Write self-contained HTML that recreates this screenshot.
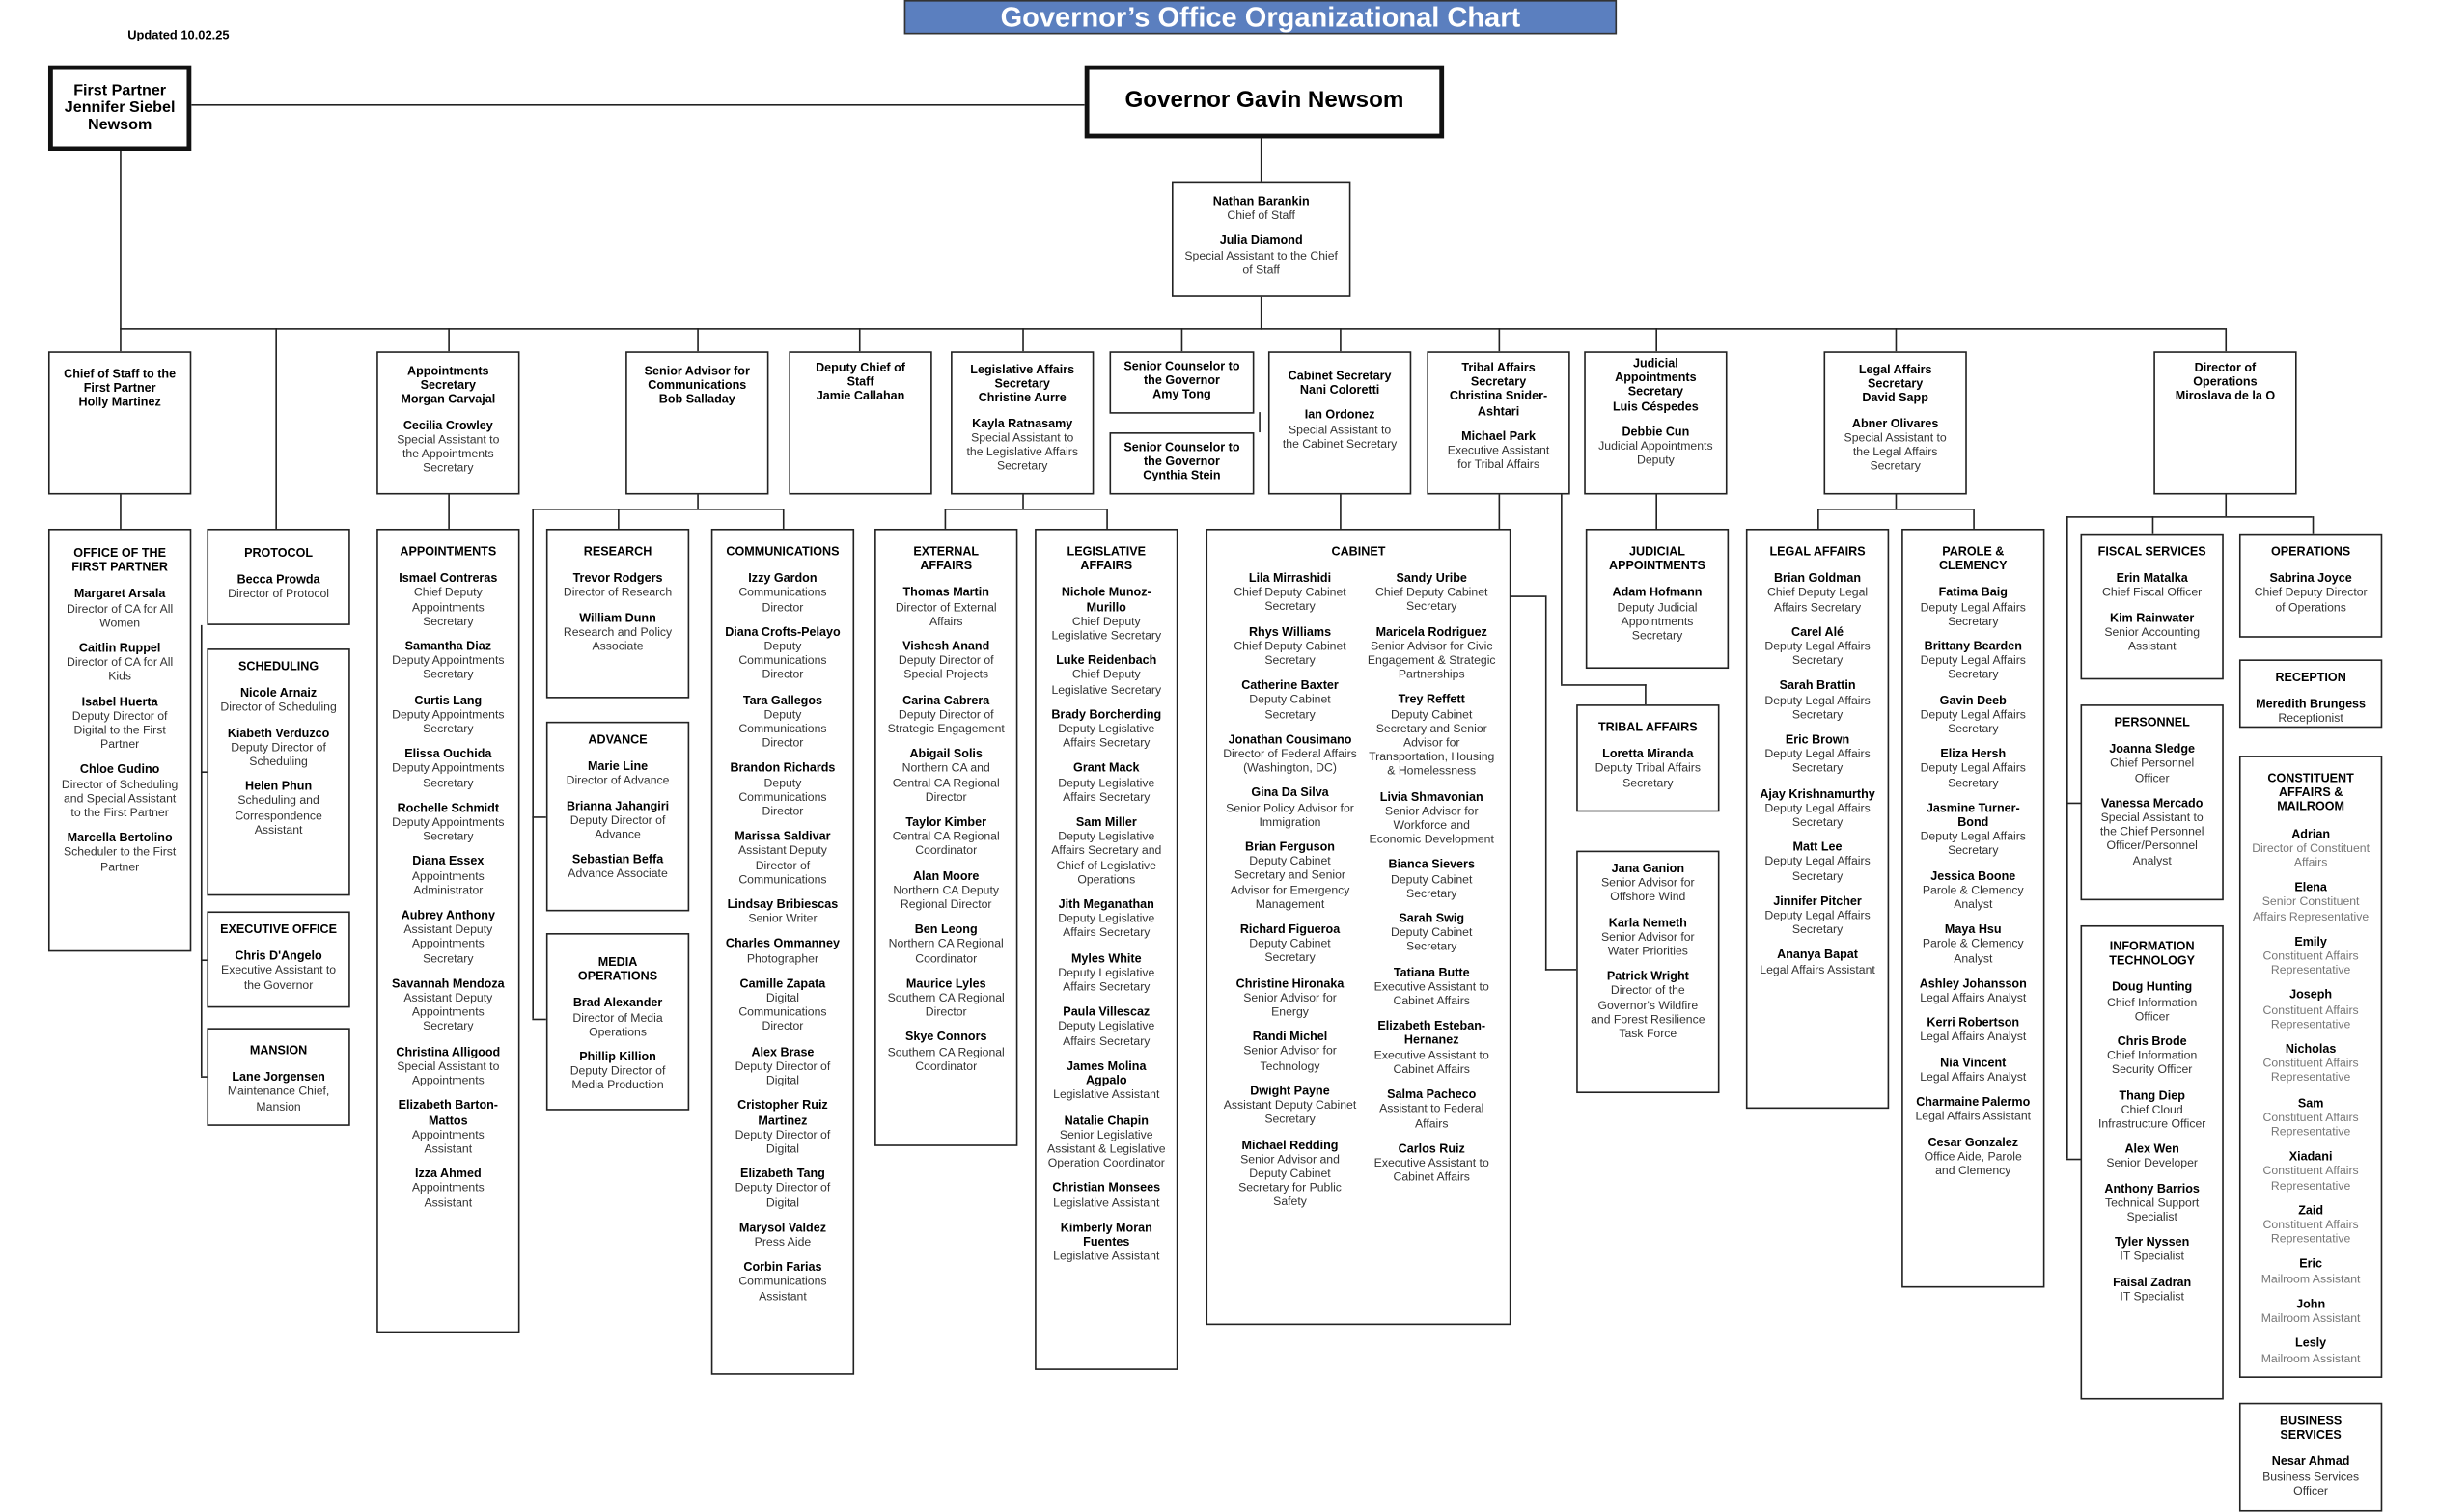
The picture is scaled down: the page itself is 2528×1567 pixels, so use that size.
<!DOCTYPE html>
<html><head><meta charset="utf-8">
<style>
html,body{margin:0;padding:0;background:#fff;}
body{width:2528px;height:1536px;overflow:hidden;position:relative;}
#w{position:absolute;left:0;top:0;width:1568px;height:953px;transform:scale(1.6122,1.6117);transform-origin:0 0;font-family:"Liberation Sans",sans-serif;color:#333;}
.b{position:absolute;border:1.3px solid #222;background:#fff;box-sizing:border-box;text-align:center;font-size:7.6px;line-height:9.2px;padding:4px 7px;}
.b p{margin:0 0 7px 0;}
.b b{color:#000;font-size:7.8px;}
.h{font-weight:bold;color:#000;font-size:7.8px;margin-bottom:8px !important;}
.l{position:absolute;background:#222;}
.t{position:absolute;font-weight:bold;color:#000;text-align:center;}
</style></head><body><div id="w">

<div class="t" style="left:82px;top:18px;font-size:8px;">Updated 10.02.25</div>
<div style="position:absolute;left:581px;top:0;width:458px;height:22px;background:#5b7fbf;border:1px solid #333;box-sizing:border-box;color:#fff;font-weight:bold;font-size:18px;line-height:20px;text-align:center;">Governor’s Office Organizational Chart</div>

<!-- lines -->
<div class="l" style="left:123px;top:67px;width:574px;height:1.3px"></div>
<div class="l" style="left:810px;top:88px;width:1.3px;height:29px"></div>
<div class="l" style="left:810px;top:190px;width:1.3px;height:22px"></div>
<div class="l" style="left:77px;top:211px;width:1353px;height:1.3px"></div>
<div class="l" style="left:77px;top:96px;width:1.3px;height:130px"></div>
<div class="l" style="left:177px;top:211px;width:1.3px;height:129px"></div>
<div class="l" style="left:288px;top:211px;width:1.3px;height:15px"></div>
<div class="l" style="left:448px;top:211px;width:1.3px;height:15px"></div>
<div class="l" style="left:552px;top:211px;width:1.3px;height:15px"></div>
<div class="l" style="left:657px;top:211px;width:1.3px;height:15px"></div>
<div class="l" style="left:759px;top:211px;width:1.3px;height:15px"></div>
<div class="l" style="left:809px;top:265px;width:1.3px;height:13px"></div>
<div class="l" style="left:861px;top:211px;width:1.3px;height:15px"></div>
<div class="l" style="left:963px;top:211px;width:1.3px;height:15px"></div>
<div class="l" style="left:1064px;top:211px;width:1.3px;height:15px"></div>
<div class="l" style="left:1218px;top:211px;width:1.3px;height:15px"></div>
<div class="l" style="left:1430px;top:211px;width:1.3px;height:15px"></div>

<div class="l" style="left:77px;top:318px;width:1.3px;height:22px"></div>
<div class="l" style="left:288px;top:318px;width:1.3px;height:22px"></div>
<div class="l" style="left:129px;top:402px;width:1.3px;height:290px"></div>
<div class="l" style="left:129px;top:496px;width:4px;height:1.3px"></div>
<div class="l" style="left:129px;top:617px;width:4px;height:1.3px"></div>
<div class="l" style="left:129px;top:692px;width:4px;height:1.3px"></div>

<div class="l" style="left:448px;top:318px;width:1.3px;height:9px"></div>
<div class="l" style="left:342px;top:327px;width:161px;height:1.3px"></div>
<div class="l" style="left:342px;top:327px;width:1.3px;height:328px"></div>
<div class="l" style="left:342px;top:525px;width:9px;height:1.3px"></div>
<div class="l" style="left:342px;top:655px;width:9px;height:1.3px"></div>
<div class="l" style="left:397px;top:327px;width:1.3px;height:13px"></div>
<div class="l" style="left:503px;top:327px;width:1.3px;height:13px"></div>

<div class="l" style="left:657px;top:318px;width:1.3px;height:9px"></div>
<div class="l" style="left:607px;top:327px;width:104px;height:1.3px"></div>
<div class="l" style="left:607px;top:327px;width:1.3px;height:13px"></div>
<div class="l" style="left:711px;top:327px;width:1.3px;height:13px"></div>

<div class="l" style="left:861px;top:318px;width:1.3px;height:22px"></div>

<div class="l" style="left:963px;top:318px;width:1.3px;height:65px"></div>
<div class="l" style="left:971px;top:383px;width:22px;height:1.3px"></div>
<div class="l" style="left:993px;top:383px;width:1.3px;height:241px"></div>
<div class="l" style="left:993px;top:623px;width:20px;height:1.3px"></div>
<div class="l" style="left:1003px;top:318px;width:1.3px;height:122px"></div>
<div class="l" style="left:1003px;top:440px;width:55px;height:1.3px"></div>
<div class="l" style="left:1057px;top:440px;width:1.3px;height:13px"></div>

<div class="l" style="left:1064px;top:318px;width:1.3px;height:22px"></div>

<div class="l" style="left:1218px;top:318px;width:1.3px;height:9px"></div>
<div class="l" style="left:1168px;top:327px;width:100px;height:1.3px"></div>
<div class="l" style="left:1168px;top:327px;width:1.3px;height:13px"></div>
<div class="l" style="left:1268px;top:327px;width:1.3px;height:13px"></div>

<div class="l" style="left:1430px;top:318px;width:1.3px;height:14px"></div>
<div class="l" style="left:1328px;top:332px;width:158px;height:1.3px"></div>
<div class="l" style="left:1328px;top:332px;width:1.3px;height:413px"></div>
<div class="l" style="left:1328px;top:516px;width:9px;height:1.3px"></div>
<div class="l" style="left:1328px;top:745px;width:9px;height:1.3px"></div>
<div class="l" style="left:1383px;top:332px;width:1.3px;height:11px"></div>
<div class="l" style="left:1486px;top:332px;width:1.3px;height:11px"></div>

<!-- top -->
<div class="b" style="left:31px;top:42px;width:92px;height:55px;border:3px solid #111;font-weight:bold;color:#000;font-size:10px;line-height:11px;padding:8px 3px 0;">First Partner<br>Jennifer Siebel<br>Newsom</div>
<div class="b" style="left:697px;top:42px;width:231px;height:47px;border:3px solid #111;font-weight:bold;color:#000;font-size:15px;line-height:40px;padding:0;">Governor Gavin Newsom</div>
<div class="b" style="left:753px;top:117px;width:115px;height:74px;padding-top:7px;"><p><b>Nathan Barankin</b><br>Chief of Staff</p><p><b>Julia Diamond</b><br>Special Assistant to the Chief of Staff</p></div>

<!-- level 2 -->
<div class="b" style="left:31px;top:226px;width:92px;height:92px;padding-top:9px;"><b>Chief of Staff to the First Partner<br>Holly Martinez</b></div>
<div class="b" style="left:242px;top:226px;width:92px;height:92px;padding-top:7px;"><p><b>Appointments Secretary<br>Morgan Carvajal</b></p><p><b>Cecilia Crowley</b><br>Special Assistant to the Appointments Secretary</p></div>
<div class="b" style="left:402px;top:226px;width:92px;height:92px;padding-top:7px;"><b>Senior Advisor for Communications<br>Bob Salladay</b></div>
<div class="b" style="left:507px;top:226px;width:92px;height:92px;padding-top:5px;"><b>Deputy Chief of Staff<br>Jamie Callahan</b></div>
<div class="b" style="left:611px;top:226px;width:92px;height:92px;padding-top:6px;"><p><b>Legislative Affairs Secretary<br>Christine Aurre</b></p><p><b>Kayla Ratnasamy</b><br>Special Assistant to the Legislative Affairs Secretary</p></div>
<div class="b" style="left:713px;top:226px;width:93px;height:40px;padding-top:4px;"><b>Senior Counselor to the Governor<br>Amy Tong</b></div>
<div class="b" style="left:713px;top:278px;width:93px;height:40px;padding-top:4px;"><b>Senior Counselor to the Governor<br>Cynthia Stein</b></div>
<div class="b" style="left:815px;top:226px;width:92px;height:92px;padding-top:10px;"><p><b>Cabinet Secretary<br>Nani Coloretti</b></p><p><b>Ian Ordonez</b><br>Special Assistant to the Cabinet Secretary</p></div>
<div class="b" style="left:917px;top:226px;width:92px;height:92px;padding-top:5px;"><p><b>Tribal Affairs Secretary<br>Christina Snider-Ashtari</b></p><p><b>Michael Park</b><br>Executive Assistant for Tribal Affairs</p></div>
<div class="b" style="left:1018px;top:226px;width:92px;height:92px;padding-top:2px;"><p><b>Judicial Appointments Secretary<br>Luis Céspedes</b></p><p><b>Debbie Cun</b><br>Judicial Appointments Deputy</p></div>
<div class="b" style="left:1172px;top:226px;width:92px;height:92px;padding-top:6px;"><p><b>Legal Affairs Secretary<br>David Sapp</b></p><p><b>Abner Olivares</b><br>Special Assistant to the Legal Affairs Secretary</p></div>
<div class="b" style="left:1384px;top:226px;width:92px;height:92px;padding-top:5px;"><b>Director of Operations<br>Miroslava de la O</b></div>

<!-- level 3 -->
<div class="b" style="left:31px;top:340px;width:92px;height:272px;padding-top:10px;"><p class="h">OFFICE OF THE FIRST PARTNER</p><p><b>Margaret Arsala</b><br>Director of CA for All Women</p><p><b>Caitlin Ruppel</b><br>Director of CA for All Kids</p><p><b>Isabel Huerta</b><br>Deputy Director of Digital to the First Partner</p><p><b>Chloe Gudino</b><br>Director of Scheduling and Special Assistant to the First Partner</p><p><b>Marcella Bertolino</b><br>Scheduler to the First Partner</p></div>

<div class="b" style="left:133px;top:340px;width:92px;height:62px;padding-top:10px;"><p class="h">PROTOCOL</p><p><b>Becca Prowda</b><br>Director of Protocol</p></div>
<div class="b" style="left:133px;top:417px;width:92px;height:159px;padding-top:6px;"><p class="h">SCHEDULING</p><p><b>Nicole Arnaiz</b><br>Director of Scheduling</p><p><b>Kiabeth Verduzco</b><br>Deputy Director of Scheduling</p><p><b>Helen Phun</b><br>Scheduling and Correspondence Assistant</p></div>
<div class="b" style="left:133px;top:586px;width:92px;height:62px;padding-top:6px;"><p class="h">EXECUTIVE OFFICE</p><p><b>Chris D'Angelo</b><br>Executive Assistant to the Governor</p></div>
<div class="b" style="left:133px;top:661px;width:92px;height:63px;padding-top:9px;"><p class="h">MANSION</p><p><b>Lane Jorgensen</b><br>Maintenance Chief, Mansion</p></div>

<div class="b" style="left:242px;top:340px;width:92px;height:517px;padding-top:9px;"><p class="h">APPOINTMENTS</p><p><b>Ismael Contreras</b><br>Chief Deputy Appointments Secretary</p><p><b>Samantha Diaz</b><br>Deputy Appointments Secretary</p><p><b>Curtis Lang</b><br>Deputy Appointments Secretary</p><p><b>Elissa Ouchida</b><br>Deputy Appointments Secretary</p><p><b>Rochelle Schmidt</b><br>Deputy Appointments Secretary</p><p><b>Diana Essex</b><br>Appointments Administrator</p><p><b>Aubrey Anthony</b><br>Assistant Deputy Appointments Secretary</p><p><b>Savannah Mendoza</b><br>Assistant Deputy Appointments Secretary</p><p><b>Christina Alligood</b><br>Special Assistant to Appointments</p><p><b>Elizabeth Barton-Mattos</b><br>Appointments Assistant</p><p><b>Izza Ahmed</b><br>Appointments Assistant</p></div>

<div class="b" style="left:351px;top:340px;width:92px;height:109px;padding-top:9px;"><p class="h">RESEARCH</p><p><b>Trevor Rodgers</b><br>Director of Research</p><p><b>William Dunn</b><br>Research and Policy Associate</p></div>
<div class="b" style="left:351px;top:464px;width:92px;height:122px;padding-top:6px;"><p class="h">ADVANCE</p><p><b>Marie Line</b><br>Director of Advance</p><p><b>Brianna Jahangiri</b><br>Deputy Director of Advance</p><p><b>Sebastian Beffa</b><br>Advance Associate</p></div>
<div class="b" style="left:351px;top:600px;width:92px;height:114px;padding-top:13px;"><p class="h">MEDIA OPERATIONS</p><p><b>Brad Alexander</b><br>Director of Media Operations</p><p><b>Phillip Killion</b><br>Deputy Director of Media Production</p></div>

<div class="b" style="left:457px;top:340px;width:92px;height:544px;padding-top:9px;"><p class="h">COMMUNICATIONS</p><p><b>Izzy Gardon</b><br>Communications Director</p><p><b>Diana Crofts-Pelayo</b><br>Deputy Communications Director</p><p><b>Tara Gallegos</b><br>Deputy Communications Director</p><p><b>Brandon Richards</b><br>Deputy Communications Director</p><p><b>Marissa Saldivar</b><br>Assistant Deputy Director of Communications</p><p><b>Lindsay Bribiescas</b><br>Senior Writer</p><p><b>Charles Ommanney</b><br>Photographer</p><p><b>Camille Zapata</b><br>Digital Communications Director</p><p><b>Alex Brase</b><br>Deputy Director of Digital</p><p><b>Cristopher Ruiz Martinez</b><br>Deputy Director of Digital</p><p><b>Elizabeth Tang</b><br>Deputy Director of Digital</p><p><b>Marysol Valdez</b><br>Press Aide</p><p><b>Corbin Farias</b><br>Communications Assistant</p></div>

<div class="b" style="left:562px;top:340px;width:92px;height:397px;padding-top:9px;"><p class="h">EXTERNAL AFFAIRS</p><p><b>Thomas Martin</b><br>Director of External Affairs</p><p><b>Vishesh Anand</b><br>Deputy Director of Special Projects</p><p><b>Carina Cabrera</b><br>Deputy Director of Strategic Engagement</p><p><b>Abigail Solis</b><br>Northern CA and Central CA Regional Director</p><p><b>Taylor Kimber</b><br>Central CA Regional Coordinator</p><p><b>Alan Moore</b><br>Northern CA Deputy Regional Director</p><p><b>Ben Leong</b><br>Northern CA Regional Coordinator</p><p><b>Maurice Lyles</b><br>Southern CA Regional Director</p><p><b>Skye Connors</b><br>Southern CA Regional Coordinator</p></div>

<div class="b" style="left:665px;top:340px;width:92px;height:541px;padding-top:9px;"><p class="h">LEGISLATIVE AFFAIRS</p><p><b>Nichole Munoz-Murillo</b><br>Chief Deputy Legislative Secretary</p><p><b>Luke Reidenbach</b><br>Chief Deputy Legislative Secretary</p><p><b>Brady Borcherding</b><br>Deputy Legislative Affairs Secretary</p><p><b>Grant Mack</b><br>Deputy Legislative Affairs Secretary</p><p><b>Sam Miller</b><br>Deputy Legislative Affairs Secretary and Chief of Legislative Operations</p><p><b>Jith Meganathan</b><br>Deputy Legislative Affairs Secretary</p><p><b>Myles White</b><br>Deputy Legislative Affairs Secretary</p><p><b>Paula Villescaz</b><br>Deputy Legislative Affairs Secretary</p><p><b>James Molina Agpalo</b><br>Legislative Assistant</p><p><b>Natalie Chapin</b><br>Senior Legislative Assistant &amp; Legislative Operation Coordinator</p><p><b>Christian Monsees</b><br>Legislative Assistant</p><p><b>Kimberly Moran Fuentes</b><br>Legislative Assistant</p></div>

<div class="b" style="left:775px;top:340px;width:196px;height:512px;padding-top:9px;"><p class="h">CABINET</p>
<div style="position:absolute;left:10px;top:26px;width:86px;"><p><b>Lila Mirrashidi</b><br>Chief Deputy Cabinet Secretary</p><p><b>Rhys Williams</b><br>Chief Deputy Cabinet Secretary</p><p><b>Catherine Baxter</b><br>Deputy Cabinet Secretary</p><p><b>Jonathan Cousimano</b><br>Director of Federal Affairs (Washington, DC)</p><p><b>Gina Da Silva</b><br>Senior Policy Advisor for Immigration</p><p><b>Brian Ferguson</b><br>Deputy Cabinet Secretary and Senior Advisor for Emergency Management</p><p><b>Richard Figueroa</b><br>Deputy Cabinet Secretary</p><p><b>Christine Hironaka</b><br>Senior Advisor for Energy</p><p><b>Randi Michel</b><br>Senior Advisor for Technology</p><p><b>Dwight Payne</b><br>Assistant Deputy Cabinet Secretary</p><p><b>Michael Redding</b><br>Senior Advisor and Deputy Cabinet Secretary for Public Safety</p></div>
<div style="position:absolute;left:102px;top:26px;width:84px;"><p><b>Sandy Uribe</b><br>Chief Deputy Cabinet Secretary</p><p><b>Maricela Rodriguez</b><br>Senior Advisor for Civic Engagement &amp; Strategic Partnerships</p><p><b>Trey Reffett</b><br>Deputy Cabinet Secretary and Senior Advisor for Transportation, Housing &amp; Homelessness</p><p><b>Livia Shmavonian</b><br>Senior Advisor for Workforce and Economic Development</p><p><b>Bianca Sievers</b><br>Deputy Cabinet Secretary</p><p><b>Sarah Swig</b><br>Deputy Cabinet Secretary</p><p><b>Tatiana Butte</b><br>Executive Assistant to Cabinet Affairs</p><p><b>Elizabeth Esteban-Hernanez</b><br>Executive Assistant to Cabinet Affairs</p><p><b>Salma Pacheco</b><br>Assistant to Federal Affairs</p><p><b>Carlos Ruiz</b><br>Executive Assistant to Cabinet Affairs</p></div></div>

<div class="b" style="left:1019px;top:340px;width:92px;height:90px;padding-top:9px;"><p class="h">JUDICIAL APPOINTMENTS</p><p><b>Adam Hofmann</b><br>Deputy Judicial Appointments Secretary</p></div>
<div class="b" style="left:1013px;top:453px;width:92px;height:69px;padding-top:9px;"><p class="h">TRIBAL AFFAIRS</p><p><b>Loretta Miranda</b><br>Deputy Tribal Affairs Secretary</p></div>
<div class="b" style="left:1013px;top:547px;width:92px;height:156px;padding-top:6px;"><p><b>Jana Ganion</b><br>Senior Advisor for Offshore Wind</p><p><b>Karla Nemeth</b><br>Senior Advisor for Water Priorities</p><p><b>Patrick Wright</b><br>Director of the Governor's Wildfire and Forest Resilience Task Force</p></div>

<div class="b" style="left:1122px;top:340px;width:92px;height:373px;padding-top:9px;"><p class="h">LEGAL AFFAIRS</p><p><b>Brian Goldman</b><br>Chief Deputy Legal Affairs Secretary</p><p><b>Carel Alé</b><br>Deputy Legal Affairs Secretary</p><p><b>Sarah Brattin</b><br>Deputy Legal Affairs Secretary</p><p><b>Eric Brown</b><br>Deputy Legal Affairs Secretary</p><p><b>Ajay Krishnamurthy</b><br>Deputy Legal Affairs Secretary</p><p><b>Matt Lee</b><br>Deputy Legal Affairs Secretary</p><p><b>Jinnifer Pitcher</b><br>Deputy Legal Affairs Secretary</p><p><b>Ananya Bapat</b><br>Legal Affairs Assistant</p></div>

<div class="b" style="left:1222px;top:340px;width:92px;height:488px;padding-top:9px;"><p class="h">PAROLE &amp; CLEMENCY</p><p><b>Fatima Baig</b><br>Deputy Legal Affairs Secretary</p><p><b>Brittany Bearden</b><br>Deputy Legal Affairs Secretary</p><p><b>Gavin Deeb</b><br>Deputy Legal Affairs Secretary</p><p><b>Eliza Hersh</b><br>Deputy Legal Affairs Secretary</p><p><b>Jasmine Turner-Bond</b><br>Deputy Legal Affairs Secretary</p><p><b>Jessica Boone</b><br>Parole &amp; Clemency Analyst</p><p><b>Maya Hsu</b><br>Parole &amp; Clemency Analyst</p><p><b>Ashley Johansson</b><br>Legal Affairs Analyst</p><p><b>Kerri Robertson</b><br>Legal Affairs Analyst</p><p><b>Nia Vincent</b><br>Legal Affairs Analyst</p><p><b>Charmaine Palermo</b><br>Legal Affairs Assistant</p><p><b>Cesar Gonzalez</b><br>Office Aide, Parole and Clemency</p></div>

<div class="b" style="left:1337px;top:343px;width:92px;height:94px;padding-top:6px;"><p class="h">FISCAL SERVICES</p><p><b>Erin Matalka</b><br>Chief Fiscal Officer</p><p><b>Kim Rainwater</b><br>Senior Accounting Assistant</p></div>
<div class="b" style="left:1337px;top:453px;width:92px;height:126px;padding-top:6px;"><p class="h">PERSONNEL</p><p><b>Joanna Sledge</b><br>Chief Personnel Officer</p><p><b>Vanessa Mercado</b><br>Special Assistant to the Chief Personnel Officer/Personnel Analyst</p></div>
<div class="b" style="left:1337px;top:595px;width:92px;height:305px;padding-top:8px;"><p class="h">INFORMATION TECHNOLOGY</p><p><b>Doug Hunting</b><br>Chief Information Officer</p><p><b>Chris Brode</b><br>Chief Information Security Officer</p><p><b>Thang Diep</b><br>Chief Cloud Infrastructure Officer</p><p><b>Alex Wen</b><br>Senior Developer</p><p><b>Anthony Barrios</b><br>Technical Support Specialist</p><p><b>Tyler Nyssen</b><br>IT Specialist</p><p><b>Faisal Zadran</b><br>IT Specialist</p></div>

<div class="b" style="left:1439px;top:343px;width:92px;height:67px;padding-top:6px;"><p class="h">OPERATIONS</p><p><b>Sabrina Joyce</b><br>Chief Deputy Director of Operations</p></div>
<div class="b" style="left:1439px;top:424px;width:92px;height:44px;padding-top:6px;"><p class="h">RECEPTION</p><p><b>Meredith Brungess</b><br>Receptionist</p></div>
<div class="b" style="left:1439px;top:486px;width:92px;height:400px;padding-top:9px;color:#777;"><p class="h">CONSTITUENT AFFAIRS &amp; MAILROOM</p><p><b>Adrian</b><br>Director of Constituent Affairs</p><p><b>Elena</b><br>Senior Constituent Affairs Representative</p><p><b>Emily</b><br>Constituent Affairs Representative</p><p><b>Joseph</b><br>Constituent Affairs Representative</p><p><b>Nicholas</b><br>Constituent Affairs Representative</p><p><b>Sam</b><br>Constituent Affairs Representative</p><p><b>Xiadani</b><br>Constituent Affairs Representative</p><p><b>Zaid</b><br>Constituent Affairs Representative</p><p><b>Eric</b><br>Mailroom Assistant</p><p><b>John</b><br>Mailroom Assistant</p><p><b>Lesly</b><br>Mailroom Assistant</p></div>
<div class="b" style="left:1439px;top:902px;width:92px;height:70px;padding-top:6px;"><p class="h">BUSINESS SERVICES</p><p><b>Nesar Ahmad</b><br>Business Services Officer</p></div>

</div></body></html>
